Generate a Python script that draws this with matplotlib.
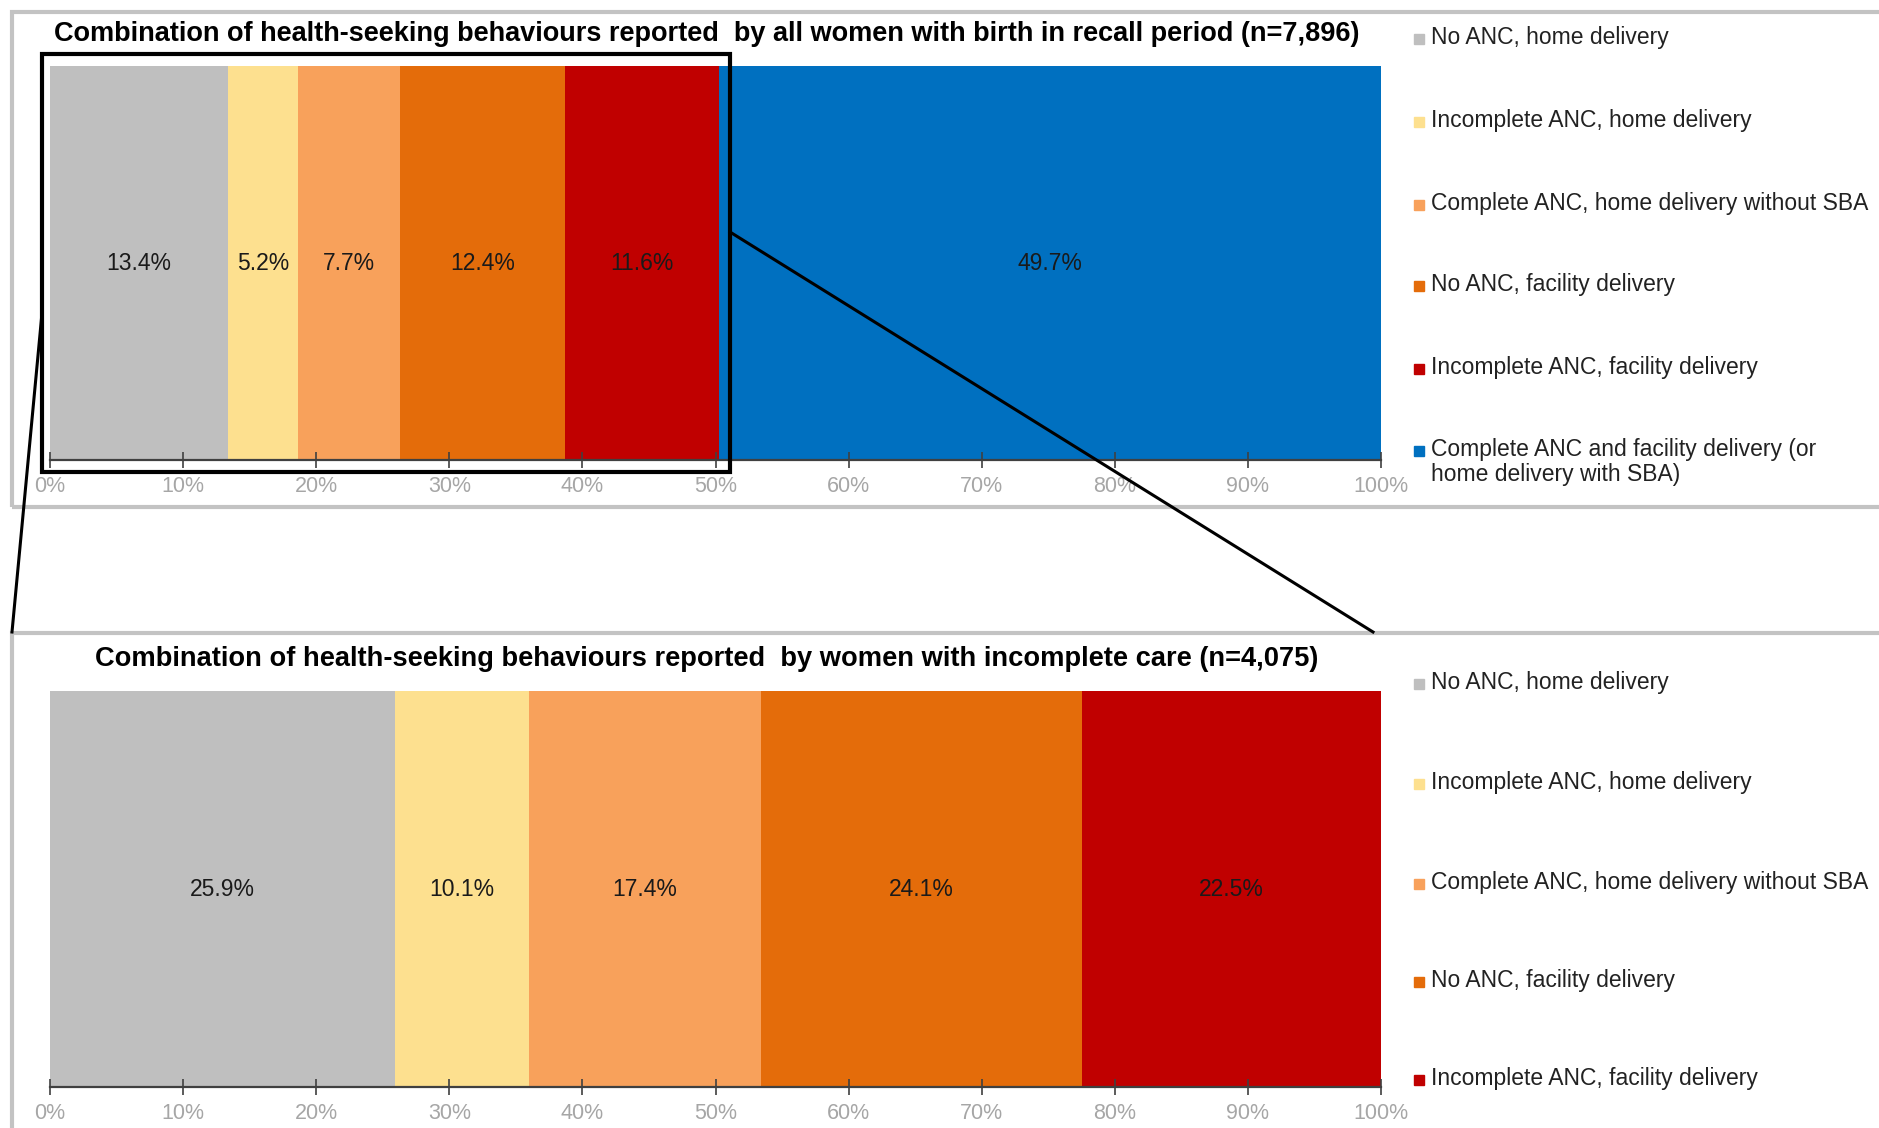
import numpy as np
import matplotlib.pyplot as plt
from matplotlib.patches import Rectangle
from matplotlib.lines import Line2D

# data
categories = ["No ANC, home delivery",
              "Incomplete ANC, home delivery",
              "Complete ANC, home delivery without SBA",
              "No ANC, facility delivery",
              "Incomplete ANC, facility delivery",
              "Complete ANC and facility delivery (or\nhome delivery with SBA)"]
colors = ["#BFBFBF", "#FDE08F", "#F8A15B", "#E46C0A", "#C00000", "#0070C0"]
all_women = [13.4, 5.2, 7.7, 12.4, 11.6, 49.7]
incomplete_care = [25.9, 10.1, 17.4, 24.1, 22.5]
ticks = np.arange(0, 101, 10)
tick_labels = [f"{t}%" for t in ticks]
title_top = "Combination of health-seeking behaviours reported  by all women with birth in recall period (n=7,896)"
title_bottom = "Combination of health-seeking behaviours reported  by women with incomplete care (n=4,075)"

W, H = 1879, 1128
fig = plt.figure(figsize=(W / 100, H / 100), dpi=100)
plain = ["Liberation Sans", "DejaVu Sans"]


def px(x, y):
    return x / W, 1 - y / H


def box(x0, y0, x1, y1):
    return [x0 / W, 1 - y1 / H, (x1 - x0) / W, (y1 - y0) / H]


def stacked(ax, values):
    left = 0
    for v, c in zip(values, colors):
        b = ax.barh(0, v, left=left, height=1, color=c, edgecolor="none")
        ax.bar_label(b, labels=[f"{v:.1f}%"], label_type="center",
                     fontsize=16.5, family=plain, color="#1a1a1a")
        left += v
    ax.set_xlim(0, 100)
    ax.set_ylim(-0.5, 0.5)
    ax.set_yticks([])
    ax.set_xticks(ticks)
    ax.set_xticklabels(tick_labels, family=plain, fontsize=15.5, color="#A6A6A6")
    ax.tick_params(axis="x", direction="inout", length=11, width=1.2,
                   color="#404040", pad=6)
    for s in ["top", "left", "right"]:
        ax.spines[s].set_visible(False)
    ax.spines["bottom"].set_color("#404040")
    ax.spines["bottom"].set_linewidth(1.6)


def legend(items, ys):
    for (lab, c), y in zip(items, ys):
        fig.patches.append(Rectangle(px(1414, y + 6), 10 / W, 10 / H,
                                     transform=fig.transFigure, color=c))
        fig.text(*px(1431, y - 12), lab, fontsize=16.5, family=plain,
                 color="#222222", va="top", linespacing=1.1)


# panel frames
frame_kw = dict(transform=fig.transFigure, fill=False, edgecolor="#C3C3C3", lw=3)
fig.patches.append(Rectangle(px(12, 507), (W + 20) / W, 495 / H, **frame_kw))
fig.patches.append(Rectangle(px(12, H + 20), (W + 20) / W, (H + 20 - 633) / H, **frame_kw))

ax1 = fig.add_axes(box(50, 66, 1381, 460))
stacked(ax1, all_women)
fig.text(*px(707, 34), title_top, ha="center", va="center", fontsize=19.5,
         fontweight="bold", family=plain)
legend(zip(categories, colors), [38, 121, 204, 285, 368, 450])

ax2 = fig.add_axes(box(50, 691, 1381, 1087))
stacked(ax2, incomplete_care)
fig.text(*px(707, 659), title_bottom, ha="center", va="center", fontsize=19.6,
         fontweight="bold", family=plain)
legend(zip(categories[:5], colors[:5]), [683, 783, 883, 981, 1079])

# zoom callout
fig.patches.append(Rectangle(px(42, 472), 688 / W, 418 / H, transform=fig.transFigure,
                             fill=False, edgecolor="black", lw=3))
for (x0, y0), (x1, y1) in [((42, 313), (12, 632)), ((730, 232), (1373, 632))]:
    fig.lines.append(Line2D([x0 / W, x1 / W], [1 - y0 / H, 1 - y1 / H],
                            transform=fig.transFigure, color="black", lw=2.2))

fig.savefig("out.png", dpi=100)
